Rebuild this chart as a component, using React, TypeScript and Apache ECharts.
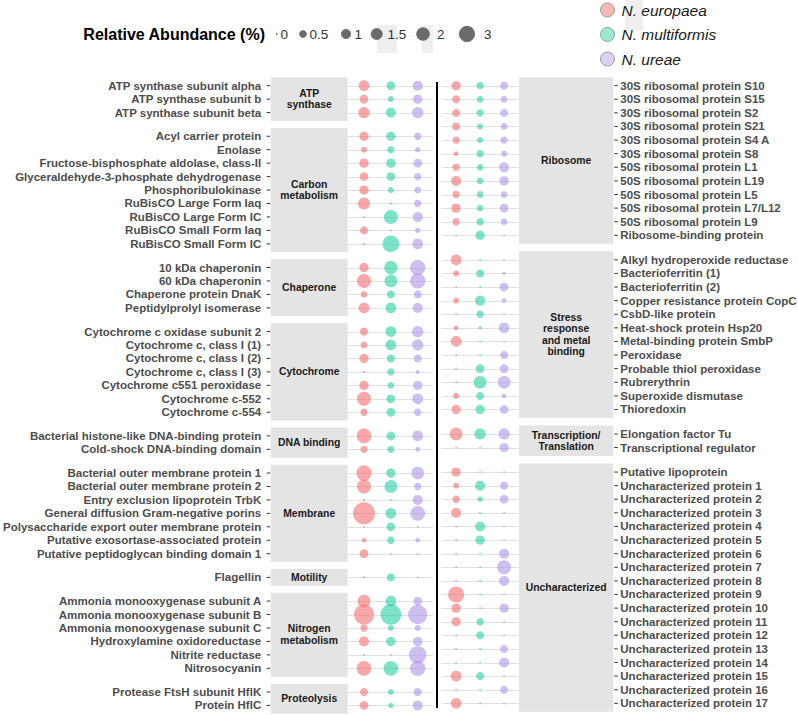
import React, { useEffect, useRef } from "react";
import * as echarts from "echarts";

const FONT = '"Liberation Sans", Arial, sans-serif';
const SPECIES = ["N. europaea", "N. multiformis", "N. ureae"];
const BUBBLE_COLORS = ["rgba(242,104,104,0.72)", "rgba(30,206,160,0.72)", "rgba(172,142,230,0.72)"];
const LEGEND_FILLS = ["#F6A7A4", "#80E3C8", "#D3C2F1"];
const SIZE_LEGEND = [0, 0.5, 1, 1.5, 2, 3];
const SIZE_LEGEND_LABELS = ["0", "0.5", "1", "1.5", "2", "3"];

// ---------- left panel ----------
const leftGroupNames = ["ATP\nsynthase", "Carbon\nmetabolism", "Chaperone", "Cytochrome", "DNA binding", "Membrane", "Motility", "Nitrogen\nmetabolism", "Proteolysis"];
const leftGroupCounts = [3, 9, 4, 7, 2, 7, 1, 6, 2];
const leftLabels = [
  "ATP synthase subunit alpha", "ATP synthase subunit b", "ATP synthase subunit beta",
  "Acyl carrier protein", "Enolase", "Fructose-bisphosphate aldolase, class-II", "Glyceraldehyde-3-phosphate dehydrogenase",
  "Phosphoribulokinase", "RuBisCO Large Form Iaq", "RuBisCO Large Form IC", "RuBisCO Small Form Iaq", "RuBisCO Small Form IC",
  "10 kDa chaperonin", "60 kDa chaperonin", "Chaperone protein DnaK", "Peptidylprolyl isomerase",
  "Cytochrome c oxidase subunit 2", "Cytochrome c, class I (1)", "Cytochrome c, class I (2)", "Cytochrome c, class I (3)",
  "Cytochrome c551 peroxidase", "Cytochrome c-552", "Cytochrome c-554",
  "Bacterial histone-like DNA-binding protein", "Cold-shock DNA-binding domain",
  "Bacterial outer membrane protein 1", "Bacterial outer membrane protein 2", "Entry exclusion lipoprotein TrbK",
  "General diffusion Gram-negative porins", "Polysaccharide export outer membrane protein",
  "Putative exosortase-associated protein", "Putative peptidoglycan binding domain 1",
  "Flagellin",
  "Ammonia monooxygenase subunit A", "Ammonia monooxygenase subunit B", "Ammonia monooxygenase subunit C",
  "Hydroxylamine oxidoreductase", "Nitrite reductase", "Nitrosocyanin",
  "Protease FtsH subunit HflK", "Protein HflC",
];
const leftEuropaea = [1.37, 0.86, 1.54, 1.0, 0.36, 1.0, 0.86, 1.0, 1.76, 0.01, 0.71, 0.01, 1.0, 2.45, 0.47, 1.37, 0.71, 0.47, 1.0, 0.02, 1.0, 2.45, 0.58, 2.72, 0.58, 2.97, 2.45, 0.02, 6.4, 0.01, 0.2, 0.86, 0.01, 1.99, 5.24, 0.58, 1.18, 0.01, 2.72, 0.71, 0.86];
const leftMultiformis = [0.86, 0.36, 1.18, 1.0, 0.58, 1.0, 0.86, 0.36, 0.02, 2.45, 0.01, 3.58, 2.2, 1.99, 0.71, 1.37, 1.37, 1.37, 0.71, 0.58, 0.47, 0.86, 0.86, 0.86, 0.58, 1.0, 1.99, 0.02, 1.37, 0.86, 0.58, 0.01, 0.71, 1.37, 5.63, 0.36, 1.0, 0.01, 2.72, 0.36, 0.27];
const leftUreae = [1.18, 1.0, 1.54, 0.58, 0.27, 0.86, 0.58, 0.47, 0.58, 1.18, 0.27, 1.37, 2.97, 2.97, 0.71, 1.18, 1.54, 1.54, 0.71, 0.13, 1.0, 1.37, 0.58, 1.37, 0.2, 1.99, 0.58, 1.18, 2.72, 0.02, 0.2, 0.01, 0.01, 0.86, 4.86, 0.36, 1.0, 3.86, 2.97, 0.71, 1.18];

// ---------- right panel ----------
const rightGroupNames = ["Ribosome", "Stress\nresponse\nand metal\nbinding", "Transcription/\nTranslation", "Uncharacterized"];
const rightGroupCounts = [12, 12, 2, 18];
const rightLabels = [
  "30S ribosomal protein S10", "30S ribosomal protein S15", "30S ribosomal protein S2", "30S ribosomal protein S21",
  "30S ribosomal protein S4 A", "30S ribosomal protein S8", "50S ribosomal protein L1", "50S ribosomal protein L19",
  "50S ribosomal protein L5", "50S ribosomal protein L7/L12", "50S ribosomal protein L9", "Ribosome-binding protein",
  "Alkyl hydroperoxide reductase", "Bacterioferritin (1)", "Bacterioferritin (2)", "Copper resistance protein CopC",
  "CsbD-like protein", "Heat-shock protein Hsp20", "Metal-binding protein SmbP", "Peroxidase",
  "Probable thiol peroxidase", "Rubrerythrin", "Superoxide dismutase", "Thioredoxin",
  "Elongation factor Tu", "Transcriptional regulator",
  "Putative lipoprotein", "Uncharacterized protein 1", "Uncharacterized protein 2", "Uncharacterized protein 3",
  "Uncharacterized protein 4", "Uncharacterized protein 5", "Uncharacterized protein 6", "Uncharacterized protein 7",
  "Uncharacterized protein 8", "Uncharacterized protein 9", "Uncharacterized protein 10", "Uncharacterized protein 11",
  "Uncharacterized protein 12", "Uncharacterized protein 13", "Uncharacterized protein 14", "Uncharacterized protein 15",
  "Uncharacterized protein 16", "Uncharacterized protein 17",
];
const rightEuropaea = [1.0, 0.71, 0.71, 0.71, 0.58, 0.2, 0.58, 1.18, 0.58, 1.0, 0.58, 0.01, 1.37, 0.36, 0.01, 0.36, 0.01, 0.2, 1.37, 0.01, 0.01, 0.01, 0.36, 1.0, 1.99, 0.01, 1.0, 0.36, 0.58, 1.18, 0.01, 0.01, 0.01, 0.01, 0.01, 3.27, 1.0, 1.0, 0.01, 0.01, 0.01, 1.37, 0.01, 1.37];
const rightMultiformis = [0.58, 0.47, 0.58, 0.36, 0.36, 0.58, 0.47, 0.47, 0.47, 0.47, 0.58, 1.0, 0.01, 0.71, 0.01, 1.18, 0.58, 0.08, 0.01, 0.01, 0.86, 1.99, 0.71, 1.0, 1.54, 0.01, 0.01, 1.18, 0.27, 0.01, 1.18, 1.0, 0.01, 0.01, 0.01, 0.01, 0.01, 0.58, 0.71, 0.01, 0.01, 0.71, 0.01, 0.01];
const rightUreae = [0.71, 0.47, 0.71, 0.47, 0.58, 0.36, 1.18, 1.0, 0.47, 0.86, 0.47, 0.01, 0.01, 0.08, 0.86, 0.2, 0.01, 1.37, 0.01, 0.71, 0.86, 1.99, 0.2, 0.86, 1.54, 1.0, 0.01, 0.71, 0.86, 0.01, 0.01, 0.01, 1.18, 2.45, 1.18, 0.01, 1.0, 0.01, 0.01, 0.71, 1.18, 0.01, 0.71, 0.01];

function sizeOf(v: number) {
  return Math.max(1.8, 1 + 8.3 * Math.sqrt(v));
}

function layoutRows(counts: number[], gap: number) {
  const pos: number[] = [];
  const groups: number[][] = [];
  let idx = 0;
  counts.forEach((c, g) => {
    const start = idx + g * gap;
    for (let i = 0; i < c; i++) pos.push(start + i);
    groups.push([start, start + c - 1]);
    idx += c;
  });
  return { pos, groups, max: pos[pos.length - 1] };
}

type Panel = {
  side: "left" | "right";
  names: string[];
  counts: number[];
  labels: string[];
  values: number[][];
  gap: number;
  top: number;
  height: number;
  boxLeft: number;
  boxWidth: number;
  bubLeft: number;
  bubWidth: number;
  xMin: number;
  xMax: number;
};

const PANELS: Panel[] = [
  {
    side: "left", names: leftGroupNames, counts: leftGroupCounts, labels: leftLabels,
    values: [leftEuropaea, leftMultiformis, leftUreae], gap: 0.76,
    top: 77.6, height: 635.9, boxLeft: 270.7, boxWidth: 77, bubLeft: 347.1, bubWidth: 85.9, xMin: -0.63, xMax: 2.57,
  },
  {
    side: "right", names: rightGroupNames, counts: rightGroupCounts, labels: rightLabels,
    values: [rightEuropaea, rightMultiformis, rightUreae], gap: 0.8,
    top: 77.5, height: 634, boxLeft: 519, boxWidth: 94.3, bubLeft: 441.7, bubWidth: 76.8, xMin: -0.6, xMax: 2.6,
  },
];

function buildOption() {
  const grid: any[] = [];
  const xAxis: any[] = [];
  const yAxis: any[] = [];
  const series: any[] = [];

  PANELS.forEach((p) => {
    const lay = layoutRows(p.counts, p.gap);
    const yCfg = { type: "value", inverse: true, min: -0.6, max: lay.max + 0.6, show: false };
    const boxIdx = grid.length;
    grid.push({ left: p.boxLeft, width: p.boxWidth, top: p.top, height: p.height, containLabel: false });
    xAxis.push({ type: "value", min: 0, max: 1, show: false, gridIndex: boxIdx });
    yAxis.push({ ...yCfg, gridIndex: boxIdx });
    const bubIdx = grid.length;
    grid.push({ left: p.bubLeft, width: p.bubWidth, top: p.top, height: p.height, containLabel: false });
    xAxis.push({ type: "value", min: p.xMin, max: p.xMax, show: false, gridIndex: bubIdx });
    yAxis.push({ ...yCfg, gridIndex: bubIdx });

    // group boxes
    series.push({
      type: "custom",
      xAxisIndex: boxIdx,
      yAxisIndex: boxIdx,
      clip: false,
      silent: true,
      z: 1,
      data: lay.groups.map((g, i) => [g[0], g[1], i]),
      renderItem: (params: any, api: any) => {
        const cs = params.coordSys;
        const y0 = api.coord([0, api.value(0) - 0.62])[1];
        const y1 = api.coord([0, api.value(1) + 0.62])[1];
        return {
          type: "group",
          children: [
            { type: "rect", shape: { x: cs.x, y: y0, width: cs.width, height: y1 - y0 }, style: { fill: "#E4E4E4" } },
            {
              type: "text", x: cs.x + cs.width / 2, y: (y0 + y1) / 2,
              style: {
                text: p.names[api.value(2)], fill: "#1A1A1A", fontFamily: FONT, fontWeight: "bold", fontSize: 10.4,
                lineHeight: 11.5, textAlign: "center", align: "center", textVerticalAlign: "middle", verticalAlign: "middle",
              },
            },
          ],
        };
      },
    });

    // row labels + ticks
    series.push({
      type: "custom",
      xAxisIndex: boxIdx,
      yAxisIndex: boxIdx,
      clip: false,
      silent: true,
      z: 2,
      data: lay.pos.map((y, i) => [y, i]),
      renderItem: (params: any, api: any) => {
        const cs = params.coordSys;
        const y = api.coord([0, api.value(0)])[1];
        const label = p.labels[api.value(1)];
        const left = p.side === "left";
        const tx0 = left ? cs.x - 4 : cs.x + cs.width + 1;
        const tx1 = left ? cs.x - 0.5 : cs.x + cs.width + 4.5;
        const lx = left ? cs.x - 9.5 : cs.x + cs.width + 7;
        return {
          type: "group",
          children: [
            { type: "line", shape: { x1: tx0, y1: y, x2: tx1, y2: y }, style: { stroke: "#333333", lineWidth: 1 } },
            {
              type: "text", x: lx, y: y,
              style: {
                text: label, fill: "#4D4D4D", fontFamily: FONT, fontWeight: "bold", fontSize: 11.5,
                textAlign: left ? "right" : "left", align: left ? "right" : "left",
                textVerticalAlign: "middle", verticalAlign: "middle",
              },
            },
          ],
        };
      },
    });

    // horizontal row grid lines
    series.push({
      type: "custom",
      xAxisIndex: bubIdx,
      yAxisIndex: bubIdx,
      clip: false,
      silent: true,
      z: 1,
      data: lay.pos.map((y) => [y]),
      renderItem: (params: any, api: any) => {
        const cs = params.coordSys;
        const y = Math.round(api.coord([0, api.value(0)])[1]) + 0.5;
        return { type: "line", shape: { x1: cs.x, y1: y, x2: cs.x + cs.width, y2: y }, style: { stroke: "#E1E1E1", lineWidth: 1 } };
      },
    });

    // bubbles
    p.values.forEach((vals, s) => {
      series.push({
        type: "scatter",
        name: SPECIES[s],
        xAxisIndex: bubIdx,
        yAxisIndex: bubIdx,
        z: 3,
        silent: true,
        data: vals.map((v, i) => [s, lay.pos[i], v]),
        symbol: "circle",
        symbolSize: (d: number[]) => sizeOf(d[2]),
        itemStyle: { color: BUBBLE_COLORS[s] },
      });
    });
  });

  const sizeCenters = [276.7, 303, 346, 376.7, 423, 467];
  const sizeLabelX = [280.5, 309.5, 354.5, 387.5, 437, 484];
  const legendY = 34;
  const graphic: any[] = [
    { type: "rect", shape: { x: 377, y: 25, width: 20, height: 28 }, style: { fill: "#EFEFEF" }, z: 0 },
    { type: "rect", shape: { x: 422, y: 25, width: 11, height: 28 }, style: { fill: "#EFEFEF" }, z: 0 },
    { type: "rect", shape: { x: 625, y: 0, width: 18, height: 30 }, style: { fill: "#EFEFEF" }, z: 0 },
    {
      type: "text", x: 265, y: legendY, z: 10,
      style: {
        text: "Relative Abundance (%)", fill: "#000", fontFamily: FONT, fontWeight: "bold", fontSize: 16,
        textAlign: "right", align: "right", textVerticalAlign: "middle", verticalAlign: "middle",
      },
    },
    { type: "line", shape: { x1: 437, y1: 82, x2: 437, y2: 708 }, style: { stroke: "#000", lineWidth: 2 }, z: 10 },
  ];
  SIZE_LEGEND.forEach((v, i) => {
    graphic.push({
      type: "circle", z: 10,
      shape: { cx: sizeCenters[i], cy: legendY, r: sizeOf(v) / 2 },
      style: { fill: "#6B6B6B", stroke: "#555", lineWidth: v === 0 ? 0 : 0.6 },
    });
    graphic.push({
      type: "text", x: sizeLabelX[i], y: legendY, z: 10,
      style: {
        text: SIZE_LEGEND_LABELS[i], fill: "#333", fontFamily: FONT, fontSize: 13.5,
        textAlign: "left", align: "left", textVerticalAlign: "middle", verticalAlign: "middle",
      },
    });
  });

  return {
    animation: false,
    backgroundColor: "#ffffff",
    textStyle: { fontFamily: FONT },
    grid, xAxis, yAxis, series, graphic,
    legend: {
      orient: "vertical",
      left: 600,
      top: 2,
      padding: 0,
      itemWidth: 14,
      itemHeight: 14,
      itemGap: 8.5,
      selectedMode: false,
      icon: "circle",
      textStyle: { fontSize: 15.5, fontStyle: "italic", color: "#1A1A1A", fontFamily: FONT, padding: [0, 0, 0, 2] },
      data: SPECIES.map((n, i) => ({
        name: n,
        icon: "circle",
        itemStyle: { color: LEGEND_FILLS[i], borderColor: "#8A8A8A", borderWidth: 1 },
      })),
    },
  };
}

export default function App() {
  const ref = useRef<HTMLDivElement>(null);
  useEffect(() => {
    document.body.style.margin = "0";
    if (!ref.current) return;
    const chart = echarts.init(ref.current, undefined, { renderer: "svg" });
    chart.setOption(buildOption() as any);
    return () => chart.dispose();
  }, []);
  return <div ref={ref} style={{ width: 798, height: 715 }} />;
}
